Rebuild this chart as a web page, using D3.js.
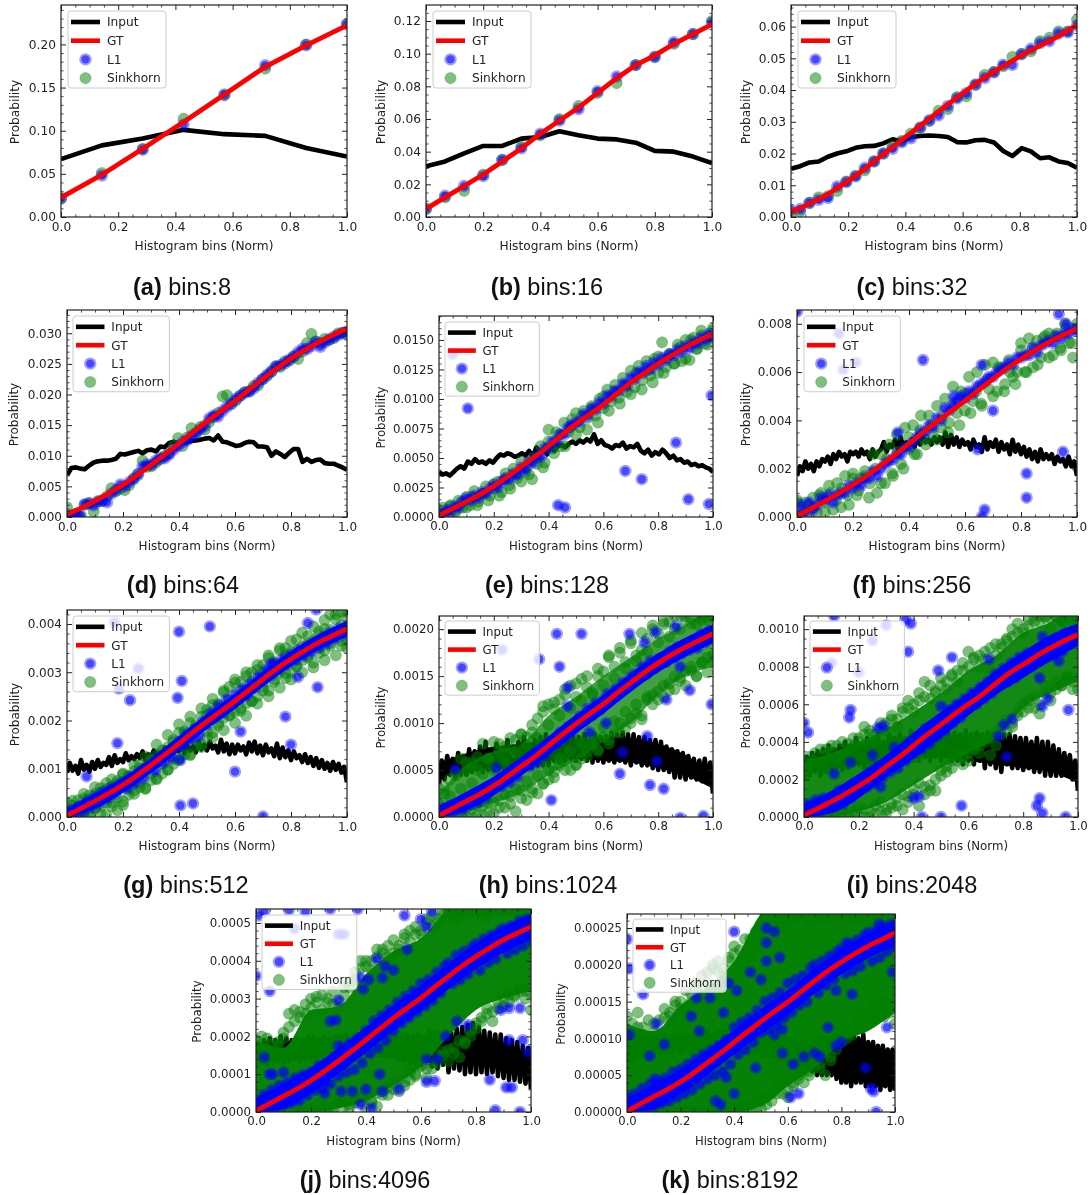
<!DOCTYPE html>
<html>
<head>
<meta charset="utf-8">
<script src="https://cdnjs.cloudflare.com/ajax/libs/d3/7.8.5/d3.min.js"></script>
<style>
  html, body { margin: 0; padding: 0; background: #fff; }
  svg { display: block; filter: blur(0.3px); }
  .tick text { fill: #222; }
</style>
</head>
<body>
<div id="chart"></div>
<script>
var xTicks = [0, 0.2, 0.4, 0.6, 0.8, 1];
var legendNames = ["Input", "GT", "L1", "Sinkhorn"];

var ticksA = [0, 0.05, 0.10, 0.15, 0.20];
var ticksB = [0, 0.02, 0.04, 0.06, 0.08, 0.10, 0.12];
var ticksC = [0, 0.01, 0.02, 0.03, 0.04, 0.05, 0.06];
var ticksD = [0, 0.005, 0.010, 0.015, 0.020, 0.025, 0.030];
var ticksE = [0, 0.0025, 0.0050, 0.0075, 0.0100, 0.0125, 0.0150];
var ticksF = [0, 0.002, 0.004, 0.006, 0.008];
var ticksG = [0, 0.001, 0.002, 0.003, 0.004];
var ticksH = [0, 0.0005, 0.0010, 0.0015, 0.0020];
var ticksI = [0, 0.0002, 0.0004, 0.0006, 0.0008, 0.0010];
var ticksJ = [0, 0.0001, 0.0002, 0.0003, 0.0004, 0.0005];
var ticksK = [0, 0.00005, 0.00010, 0.00015, 0.00020, 0.00025];

// (a) bins:8
var inputA = [.067,.083,.091,.101,.096,.094,.080,.070];
var gtA = [.0225,.049,.079,.110,.142,.174,.199,.222];
var l1A = [.022,.048,.078,.107,.142,.176,.199,.223];
var sinkA = [.021,.051,.079,.114,.141,.172,.200,.224];

// (b) bins:16
var inputB = [.031,.034,.039,.0435,.0435,.048,.049,.0525,.050,.048,.0475,.0455,.0405,.040,.037,.033];
var gtB = [.005,.012,.019,.026,.034,.042,.051,.059,.067,.076,.085,.093,.099,.106,.112,.118];
var l1B = [.005,.013,.019,.025,.035,.042,.051,.059,.066,.077,.086,.093,.098,.107,.112,.119];
var sinkB = [.005,.012,.016,.026,.035,.043,.050,.060,.068,.076,.082,.093,.098,.106,.112,.120];

// (c) bins:32, unit 1e-3
var inputC = [15.2,16,17.2,17.5,19,20,20.7,21.8,22.3,22.4,23.2,24.5,23.8,25.2,25.5,25.7,25.5,25.2,23.6,23.5,24.2,24.3,23.5,20.8,19.2,21.7,20.7,18.5,18.8,17.5,17,15.5];
var gtC = [1.5,2.8,4.2,5.6,7.2,9.1,11,13,15.2,17.5,19.8,22,24.3,26.5,28.8,31,33.3,35.5,37.7,39.8,42,44,45.8,47.5,49.2,51,52.5,54,55.5,57,58.8,60.5];
var l1C = [2.2,2.5,4.4,5.4,6,9.6,11,12.8,15.5,17.5,20,21.5,23.5,24.8,28.2,30.5,32,35,37.4,39,41.8,43.8,45.6,48,47.9,51.3,53,54.8,55.4,57.8,58.2,60.3];
var sinkC = [.8,1.8,4.5,6.2,6.6,8.2,11.2,13,14.7,17.5,20,22.3,24,26.3,28,30.2,33.5,34,37.8,38,41.6,44.8,45.7,47.5,50.5,51.4,52.2,55.4,56.5,58.5,58.5,62.2];

// (d) bins:64, unit 1e-3
var inputD = [6.8,8.0,8.1,7.9,7.8,8.4,8.9,9.1,9.2,9.2,
  9.3,9.5,10.3,10.2,10.4,10.6,10.8,10.4,10.9,11.0,
  10.7,11.5,11.4,12.1,12.3,12.0,12.3,12.2,12.4,12.5,
  12.6,12.8,12.9,12.5,13.3,12.3,12.2,11.9,11.6,11.7,
  12.1,12.3,12.2,11.5,11.5,11.4,10.0,10.7,10.3,9.8,
  10.5,11.1,11.1,9.0,9.5,9.0,9.3,9.4,8.8,8.7,8.7,8.4,8.1,7.7];
var gtD = [.5,1.4,2.6,3.9,5.2,6.8,8.5,10.2,12,13.9,15.6,17.3,18.9,20.8,22.6,24.3,25.9,27.3,28.6,29.7,30.8];
var l1D = [0.4,0.2,0.5,0.3,2.1,2.2,1.9,2.6,2.7,2.4,
  3.8,4.4,5.3,5.0,5.7,6.2,6.9,8.2,8.6,8.5,
  9.2,9.7,9.6,10.2,11.0,11.6,12.2,12.5,13.2,13.7,
  14.3,14.9,16.1,16.6,16.4,17.3,18.0,18.6,19.3,19.8,
  20.3,20.5,21.0,21.9,22.5,23.2,23.8,24.6,24.8,25.1,
  25.7,26.2,26.9,27.5,27.4,27.9,28.6,27.8,28.5,29.0,29.4,29.7,30.0,30.3];
var sinkD = [1.6,0.2,0.3,0.1,2.0,2.3,0.9,2.5,2.6,3.4,
  4.7,4.2,4.6,4.4,5.2,6.3,7.1,9.2,8.2,8.3,
  8.9,9.4,10.0,10.4,11.6,12.9,11.6,13.0,14.5,13.7,
  14.7,14.3,15.5,16.3,17.0,19.7,19.9,18.4,19.0,19.8,
  20.4,20.5,21.4,21.5,22.5,23.0,23.7,24.6,24.5,25.4,
  25.5,26.2,25.8,27.0,28.4,29.9,28.7,28.4,29.1,28.9,29.2,30.0,30.1,29.8];

// (e) bins:128, unit 1e-4
var inputE = [38,36,37,35,38,41,43,41,47,45,49,46,47,45,48,46,50,53,52,54,53,51,52,54,52,56,51,59,55,57,
  53,60,56,60,61,59,62,64,62,65,63,66,64,70,62,65,61,60,58,61,60,63,58,60,59,62,56,54,57,52,
  55,53,57,54,50,52,48,49,46,47,44,45,43,44,42,41,38];
var gtE = [1.5,7,13,19,26,34,43,51,60,70,79,87,95,105,114,122,130,137,144,150,155];
var l1E = [3,2,6,5,9,8,13, 16,14,18,16,21,20,24, 27,25,30,33,32,37,36, 42,40,47,46,52,51,58,
  59,64,64,70,70,76,78, 80,81,87,86,92,91,97, 96,103,102,107,107,113,111, 118,117,123,122,128,125,131,
  129,135,133,138,137,142,140, 145,143,148,147,152,150,155,152];
var l1OutE = [5,138, 10.5,92, 43.5,10, 46,8, 68,39, 74,32, 86.5,63, 91,15, 98.5,11, 99.5,103];
var sinkE = [3,8,4,10,5,14,8, 17,10,22,13,19,26,18, 24,30,21,37,27,41,33, 47,38,36,50,45,60,46,
  74,58,72,60,80,72,83, 88,76,90,84,94,86,100, 92,108,98,112,101,118,106, 124,110,128,116,132,120,134,
  122,148,127,138,130,146,132, 150,133,152,143,158,147,153,160];
var sinkE2 = [6,2,9,4,12,8,17,10,20,14, 28,18,32,24,36,30,42,32,50,42, 64,54,70,60,76,70,85,74,92,80,
  102,90,106,96,112,104,122,108,124,114, 136,122,138,130,144,134,150,142,154,146,158];

// (f) bins:256, unit 1e-4
var inputF = [17,21,19,23,20,22,19,23,21,24, 23,25,22,26,24,27,25,26,23,27, 26,27,25,28,26,27,24,28,25,27,
  28,31,27,30,29,32,28,33,29,31, 30,32,29,34,30,33,31,32,30,33, 31,33,30,35,29,34,30,33,29,32,
  30,31,28,32,29,30,27,33,28,31, 29,32,27,31,28,30,26,32,27,30, 26,29,25,28,24,27,23,28,24,26,
  24,26,22,25,23,24,21,25,21,23,17];
var gtF = [.5,3.5,6.6,9.8,13.3,17,21.5,25.7,30.4,35,39.6,43.8,48,52.7,57.2,61.6,65.5,69,72.5,75.3,78];
var l1F = [1,5,2,6,3,5,8, 7,9,6,9,10,10,13, 12,14,13,16,16,19,17, 20,22,23,24,26,26,29, 29,31,33,35,35,38,37,
  41,40,45,44,46,48,50, 49,52,51,54,55,56,58, 58,60,61,62,64,63,66, 66,67,67,70,68,71,72, 73,72,75,74,76,76,78,77];
var l1OutF = [0,85, 15,76, 16.5,61, 21,64, 45,65, 66,63, 56,50, 36,35, 70,44, 64.5,28, 95,27, 82,18, 82,8, 67,3, 66,0, 93.5,84, 96,80];
var sinkF = [7,1,6,0,8,2,10, 2,13,3,14,4,17,5, 18,9,16,19,8,26,10, 26,14,30,17,34,22,37, 28,38,26,42,32,42,34,
  46,37,49,39,54,43,52, 44,58,48,60,47,63,53, 64,52,62,55,65,58,60, 72,60,74,62,73,66,75, 76,67,76,69,80,72,66,78];
var sinkF2 = [6,3,5,4,9,6,10,7,12,9, 16,11,17,14,20,14,24,18,27,20, 33,26,36,30,38,32,42,35,47,38,
  51,43,52,46,57,50,62,52,60,55, 69,60,70,63,74,66,75,70,78,72,80];

// (g) bins:512, unit 1e-5
var inputG = [92,112,96,106,90,118,98,108,94,114, 100,118,104,112,108,124,106,128,112,120,
  114,132,118,126,120,130,122,136,118,130, 124,138,128,134,126,144,130,140,134,150,
  136,152,132,148,138,146,134,156,140,150, 138,156,142,148,134,160,136,152,130,150,
  132,150,138,146,130,154,136,156,132,148, 128,150,134,142,126,152,122,144,124,138,
  118,136,122,128,114,130,112,124,106,122, 102,118,100,112,96,114,98,110,92,104,72];
var gtG = [3,18,33,49,66,86,107,129,152,176,198,219,240,263,286,308,328,345,363,376,390];
var l1G = [2,14,6,22,12,32,20, 42,28,52,38,60,48,66, 72,60,82,70,90,80,100, 108,96,120,112,132,122,146,
  156,148,172,160,182,168,198, 192,216,206,230,216,244,232, 254,244,266,252,278,268,292, 282,306,294,318,306,328,316,
  336,324,346,334,354,342,362, 352,372,360,382,370,390,378,396];
var l1OutG = [17,403, 40,384, 51,395, 25.5,308, 41,282, 18.5,266, 22.5,242, 39.5,247, 18,153, 7,84, 40.5,118, 60,94, 40.5,24, 45,28, 62,177, 78,208, 80,150, 89.5,269, 86,402, 89,430, 82.5,290, 70,1, 73,318];
var l1BandHiG = [19,49,82,123,168,214,256,302,344,379,406];
var l1BandLoG = [0,17,50,91,136,182,224,270,312,347,374];
var sinkHiG = [30,24,35,38,45,48,60,70,64,75, 88,85,95,108,104,118,128,132,145,160,
  175,178,195,185,208,222,232,235,258,270, 285,280,292,300,305,315,330,322,345,350,
  342,368,352,375,365,385,390,420,410,425,415];
var sinkLoG = [0,2,1,6,8,18,22,4,30,14, 25,46,55,62,58,76,80,90,98,110,
  122,130,128,148,150,165,175,190,205,212, 218,220,235,240,250,270,262,285,300,288,
  300,315,325,335,320,350,345,360,375,355,365];
var sinkMidHiG = [14,34,22,48,37,62,50,58,78,70, 90,84,108,100,125,118,150,138,170,155,
  192,175,208,190,225,212,245,232,262,242, 278,262,300,280,315,298,335,318,350,335,
  365,345,382,360,395,378,408,388,420,398,425];
var sinkMidLoG = [0,0,4,10,0,18,6,30,22,40, 32,58,48,70,60,90,78,110,98,120,
  118,146,130,160,145,178,165,195,180,210, 195,226,210,240,235,262,250,280,268,298,
  285,312,300,330,310,340,325,355,335,365,350];

// (h) bins:1024, unit 1e-5
var inputH = [35,60,40,65,45,62,42,68,45,65, 45,72,48,70,50,75,48,80,50,72, 50,78,52,70,48,82,50,75,52,80,
  50,85,55,75,52,82,55,85,55,88, 55,82,60,88,58,85,60,88,62,85, 60,85,62,88,60,82,58,88,60,85,
  58,86,60,90,58,88,60,90,58,88, 55,88,58,85,55,85,55,82,52,82, 50,80,50,75,48,72,42,70,42,68,
  40,65,42,62,40,60,38,62,38,58,25];
var gtH = [1.5,9,17,24,33,43,54,64,76,88,99,110,120,132,143,154,164,173,181,188,195];
var l1H = [2,9,2,12,6,14,8, 16,13,24,16,27,21,32, 30,36,33,43,37,48,43, 52,56,54,62,58,70,66, 75,81,78,90,84,96,91,
  100,107,102,115,108,121,114, 124,131,127,136,132,143,139, 148,152,150,160,152,166,158, 168,170,165,176,170,181,174, 184,178,188,180,194,186,198,190];
var l1OutH = [6,51, 21,52, 23,178, 36.5,168, 44,160, 43,195, 52,195, 69.5,195, 79,197, 75,186, 47,138, 47,118, 61,100, 55,90, 41,18, 66,46, 67,69, 76,86, 79.5,59, 77,34, 82,30, 83,125, 91.5,135, 99.5,120, 88,160, 86.5,203, 96.5,1, 88,-1];
var l1BandHiH = [12,27,43,64,86,109,130,153,174,191,205];
var l1BandLoH = [0,7,23,44,66,89,110,133,154,171,185];
var sinkHiH = [30,25,40,48,62,50,58,64,78,62, 80,70,75,84,82,88,85,90,105,118, 120,115,125,130,140,128,147,138,132,150,
  155,170,160,175,165,185,172,178,190,200, 195,205,208,200,214,210,212,205,214,210,214];
var sinkLoH = [5,2,0,8,3,10,0,12,2,15, 4,18,10,22,6,28,18,30,25,35, 40,48,55,60,50,55,62,70,78,72,
  85,78,90,100,95,105,110,108,125,130, 125,140,135,150,145,155,160,150,165,170,165];
var sinkMidHiH = [14,32,22,44,30,58,36,50,46,62, 50,78,60,72,68,88,76,98,84,112, 98,122,108,136,116,142,124,150,130,158,
  140,172,148,180,158,188,166,196,176,204, 186,208,192,214,200,214,206,214,210,214,214];
var sinkMidLoH = [0,0,2,0,4,0,8,2,12,6, 16,10,24,14,30,20,38,26,44,36, 50,42,62,50,70,56,78,64,86,70,
  96,82,102,90,112,100,120,104,128,120, 134,128,142,136,148,140,156,150,164,154,172];
var bandHiH = [25,55,70,78,108,128,150,170,190,205,225];
var bandLoH = [0,5,15,25,45,60,80,100,130,150,160];
var blackHiH = [58,68,75,78,82,82,84,84,78,66,45];
var blackLoH = [42,48,52,55,60,62,60,58,52,44,30];

// (i) bins:2048, unit 1e-5
var inputI = [20,32,22,34,24,35,22,36,24,38, 24,36,26,38,25,40,26,38,28,42, 28,38,26,42,28,40,27,44,28,40,
  28,44,30,42,28,44,30,42,30,46, 30,44,30,46,32,44,30,44,32,46, 30,44,32,44,30,45,30,44,28,46,
  30,44,28,45,30,44,26,45,28,44, 26,45,24,44,28,44,26,43,26,42, 25,42,26,40,24,42,24,40,22,40,
  22,38,22,36,22,34,22,33,20,30,14];
var gtI = [1,4.4,8.2,12,16.5,21,27,32,38,44,49,55,60,65,71,77,81,86,90,94,97];
var l1I = [1,7,1,9,3,10,5, 10,6,14,7,15,10,18, 14,20,16,24,18,27,21, 28,24,32,26,35,30,38, 34,42,36,47,39,48,43,
  52,46,57,50,60,53,63, 58,66,60,69,63,72,66, 76,70,79,72,82,74,85, 78,87,80,88,83,90,85, 93,86,95,88,98,92,99,94];
var l1OutI = [0,50, 1.5,45, 10,82, 11,23, 16.5,53, 17,57, 17,29, 20,77, 25,94, 27,47.5, 29,48.5, 33,37, 25,33, 28,16, 37,105, 39,103, 38,88, 40,10, 42,11, 43,0, 57.5,6, 50,59, 54,85, 49,78, 50,0, 67.5,84, 71,43, 73,49, 74,32, 76,52, 85,6, 86,10, 87,2, 87,59, 89,63, 96.5,57, 95.5,0, 86,74, 87,96, 93,83, 30,102, 11,107];
var l1BandHiI = [7,14,23,33,45,56,66,78,88,97,103];
var l1BandLoI = [0,2,10,21,31,42,54,65,74,83,91];
var sinkHiI = [30,32,34,29,36,35,38,33,39,42, 42,48,44,40,47,50,52,48,58,62, 60,62,72,63,67,70,68,75,78,78,
  88,85,80,88,78,86,92,95,100,103, 98,105,104,107,106,100,107,104,107,103,106];
var sinkLoI = [0,3,0,5,0,2,0,4,0,1, 1,4,0,6,3,2,5,10,4,8, 15,6,12,17,14,25,27,30,33,28,
  30,40,38,42,33,45,48,52,50,56, 60,62,58,55,70,62,68,70,75,72,68];
var sinkMidHiI = [25,28,30,36,33,38,32,40,36,38, 40,44,46,44,50,46,54,52,56,58, 56,66,64,70,66,74,72,76,72,82,
  80,84,86,84,90,92,90,94,96,98, 100,102,107,104,107,106,107,105,107,107,107];
var sinkMidLoI = [2,0,4,1,0,3,0,2,0,3, 5,0,3,2,8,4,7,6,12,11, 12,18,16,14,20,22,24,26,30,32,
  34,36,34,40,42,38,44,46,48,54, 56,58,64,60,66,66,72,70,74,68,74];
var bandHiI = [30,34,40,47,56,66,78,86,98,104,115];
var bandLoI = [0,0,3,8,17,26,34,42,58,66,72];
var blackHiI = [30,36,38,40,42,42,42,42,40,36,22];
var blackLoI = [24,26,28,30,32,32,30,28,26,24,18];

// (j) bins:4096, unit 1e-6
var inputJ = [120,180,130,190,125,195,130,190,135,200, 130,195,135,190,140,195,135,190,140,200,
  140,200,140,195,145,200,140,195,145,200, 150,200,145,205,150,200,145,205,150,205,
  150,210,145,205,150,210,150,205,150,210, 145,200,140,205,135,205,130,200,130,205,
  125,200,135,215,120,210,115,210,125,215, 105,210,115,220,110,225,100,230,105,235,
  100,225,105,215,100,210,105,205,95,205, 90,195,85,190,85,185,80,175,75,170,60];
var gtJ = [3,22,42,61,83,108,135,162,191,220,249,275,301,331,359,387,412,434,456,473,490];
var l1J = [30,0,45,5,58,10,70, 20,78,25,90,30,98,45, 105,58,122,62,130,75,145, 95,168,105,182,112,195,130,
  215,155,240,170,255,190,270, 215,290,235,305,250,320,265, 340,280,350,295,370,315,385, 395,340,415,350,425,365,435,
  445,375,458,395,468,405,478, 485,420,492,430,505,440,510,455];
var l1OutJ = [0,360, 1,520, 5,320, 14,485, 30,470, 32,470, 18,530, 30,295, 41,350, 47,385, 44,405, 50,375, 55,430, 54,520,
  3,145, 5,100, 38,355, 46,355, 39,325, 31,55, 40,60, 46,55, 52,60, 45,100, 62,80, 65,82, 66,140, 62,140, 73,240, 69,200, 77,230,
  85,85, 89,270, 92,275, 96,275, 92,190, 97,190, 99,160, 87,5, 91,65, 93,65, 96,0, 64,530, 60,510, 62,490, 30,175, 25,80, 25,50,
  35,55, 38,20, 42,10, 10,105, 6,100, 29,243, 27,240, 3,530, 12,535, 27,537, 37,537];
var l1BandHiJ = [37,76,117,169,225,283,335,393,446,490,524];
var l1BandLoJ = [0,8,49,101,157,215,267,325,378,422,456];
var sinkHiJ = [190,200,195,180,175,210,260,270,265,285, 300,305,310,290,285,275,310,345,370,400,
  385,400,430,420,410,455,440,460,450,470, 480,500,490,510,520,530,510,530,520,530,
  530,535,520,537,530,537,530,537,525,537,530];
var sinkLoJ = [0,0,0,0,0,0,0,0,0,0, 10,0,30,5,10,35,15,20,25,40, 10,30,15,45,45,60,55,70,85,100,
  120,90,115,130,150,135,170,145,180,200, 220,250,260,240,275,300,290,310,320,300,270];
var sinkMidHiJ = [170,180,165,155,185,195,225,240,250,260, 275,290,270,300,320,295,330,330,350,380,
  400,375,410,430,440,420,430,470,480,490, 470,510,520,500,530,537,520,530,537,530,
  537,520,530,537,537,530,537,537,530,537,537];
var sinkMidLoJ = [0,0,0,0,0,0,0,0,0,0, 0,5,0,15,0,25,30,10,35,30, 40,25,50,55,65,75,85,80,105,95,
  125,115,130,150,160,165,155,190,185,215, 235,240,275,265,290,280,310,305,330,320,315];
var bandHiJ = [190,170,270,280,365,425,460,540,600,600,600];
var bandLoJ = [0,0,0,10,30,70,120,200,270,300,320];
var blackHiJ = [170,185,190,195,200,195,200,190,190,170,110];
var blackLoJ = [130,135,145,150,155,140,130,135,135,115,85];

// (k) bins:8192, unit 1e-6
var inputK = [70,95,70,95,75,100,75,100,75,100, 80,100,80,105,80,105,80,100,80,105, 85,105,80,105,85,105,80,105,85,110,
  80,105,85,110,85,105,85,110,85,110, 85,110,85,110,85,110,80,105,80,110, 80,105,80,105,80,105,75,105,75,100,
  75,100,70,100,70,100,70,100,65,95, 65,95,60,95,60,90,55,95,50,100, 50,100,50,100,50,105,45,100,40,105,
  40,110,35,105,40,100,40,105,35,95, 35,95,35,90,30,90,35,85,30,85,30];
var gtK = [1,11,21,30,41,53,67,80,95,109,123,137,149,164,178,192,204,215,226,234,243];
var l1K = [20,0,25,2,32,5,38, 8,42,12,46,15,54,20, 58,25,65,30,72,38,78, 45,84,50,90,55,98,65,
  115,78,122,85,128,95,138, 108,150,112,155,118,162,128, 175,135,180,145,185,150,195, 200,162,205,172,212,180,218,
  222,188,228,192,233,198,240, 244,205,246,210,252,218,255,225];
var l1OutK = [0,235, 1,195, 1,105, 6,160, 11,120, 14,92, 8.5,76, 10.5,45, 24,130, 26,155, 27,110, 31,155, 36,135, 37,95, 37,47, 38,175, 41,165, 40,25,
  33,15, 35,10, 30,75, 45,110, 48,60, 58,80, 56,125, 55,105, 58,112, 52,250, 55,245, 52,205, 52,230, 57,210, 40,245, 46,190, 50,180,
  62,65, 66,75, 70,80, 72,75, 75,115, 78,90, 80,95, 87,210, 82,230, 61,20, 64,25, 89,60, 91,32, 92,28, 93,0, 97,115, 99,190, 94,255, 72,175, 78,165, 84,160];
var l1BandHiK = [18,38,58,84,112,140,166,195,221,243,260];
var l1BandLoK = [0,4,24,50,78,106,132,161,187,209,226];
var sinkHiK = [130,120,135,115,125,120,105,128,130,145, 150,140,160,175,160,190,200,190,195,210,
  215,220,205,235,225,240,250,269,255,265, 260,269,265,269,260,269,265,269,262,269,
  269,265,269,262,269,265,269,262,269,265,269];
var sinkLoK = [0,0,0,0,0,0,0,0,0,0, 0,0,0,0,0,0,0,0,0,0, 0,5,0,10,5,15,10,25,35,25,
  20,40,45,40,55,60,65,50,70,85, 95,100,110,115,135,120,125,130,150,135,120];
var sinkMidHiK = [110,100,115,105,95,110,125,140,135,150, 140,165,150,170,185,175,195,205,185,205,
  225,200,235,215,245,255,235,265,269,250, 269,260,269,269,255,269,265,269,269,269,
  269,269,269,269,269,269,269,269,269,269,269];
var sinkMidLoK = [0,0,0,0,0,0,0,0,0,0, 0,0,0,0,0,0,0,0,0,0, 5,0,10,3,15,5,20,15,25,40,
  30,35,50,55,50,70,60,80,75,95, 105,115,105,125,120,130,145,140,130,145,150];
var bandHiK = [120,110,145,170,205,270,300,300,300,300,300];
var bandLoK = [0,0,0,0,0,8,35,60,95,110,135];
var blackHiK = [90,95,100,100,100,100,95,85,85,90,70];
var blackLoK = [75,80,85,85,85,80,75,70,70,55,45];

// pair up a flat "x%, y, x%, y" list
function pairs(flat) {
    var out = [];
    for (var i = 0; i < flat.length; i += 2) out.push([flat[i] / 100, flat[i + 1]]);
    return out;
}
// values sitting on evenly spaced bins between 0 and 1
function even(list) {
    return list.map(function (v, i) { return [i / (list.length - 1), v]; });
}

var panels = [
    {tag: "(a)", cap: "bins:8", l: 61, r: 347, t: 5, b: 217, yMax: .2457, unit: 1, ticks: ticksA, dec: 2, sub: 5, fs: 12.2, yl: 46, lx: 7, ly: 6,
     input: inputA, gt: gtA, l1: even(l1A), green: even(sinkA), cx: 182, cy: 295},
    {tag: "(b)", cap: "bins:16", l: 426, r: 712, t: 5, b: 217, yMax: .1298, unit: 1, ticks: ticksB, dec: 2, sub: 4, fs: 12.2, yl: 45, lx: 7, ly: 6,
     input: inputB, gt: gtB, l1: even(l1B), green: even(sinkB), cx: 547, cy: 295},
    {tag: "(c)", cap: "bins:32", l: 791, r: 1077, t: 5, b: 217, yMax: .0668, unit: 1e-3, ticks: ticksC, dec: 2, sub: 5, fs: 12.2, yl: 45, lx: 7, ly: 6,
     input: inputC, gt: gtC, l1: even(l1C), green: even(sinkC), cx: 912, cy: 295},
    {tag: "(d)", cap: "bins:64", l: 67, r: 347, t: 310, b: 517, yMax: .0338, unit: 1e-3, ticks: ticksD, dec: 3, sub: 5, fs: 12, yl: 53, lx: 6, ly: 6,
     input: inputD, gt: gtD, l1: even(l1D), green: even(sinkD), cx: 183, cy: 593},
    {tag: "(e)", cap: "bins:128", l: 439, r: 713, t: 316, b: 517, yMax: .01703, unit: 1e-4, ticks: ticksE, dec: 4, sub: 5, fs: 11.75, yl: 58, lx: 6, ly: 6,
     input: inputE, gt: gtE, l1: even(l1E).concat(pairs(l1OutE)), green: even(sinkE).concat(even(sinkE2)), cx: 547, cy: 593},
    {tag: "(f)", cap: "bins:256", l: 797, r: 1077, t: 310, b: 517, yMax: .00857, unit: 1e-4, ticks: ticksF, dec: 3, sub: 4, fs: 12, yl: 51, lx: 7, ly: 6,
     input: inputF, gt: gtF, l1: even(l1F).concat(pairs(l1OutF)), green: even(sinkF).concat(even(sinkF2)), cx: 912, cy: 593},
    {tag: "(g)", cap: "bins:512", l: 67, r: 347, t: 610, b: 817, yMax: .00429, unit: 1e-5, ticks: ticksG, dec: 3, sub: 5, fs: 12, yl: 52, lx: 6, ly: 6,
     input: inputG, gt: gtG, l1: even(l1G).concat(pairs(l1OutG)), l1Hi: l1BandHiG, l1Lo: l1BandLoG,
     green: [sinkHiG, sinkLoG, sinkMidHiG, sinkMidLoG].map(even).flat(), cx: 186, cy: 893},
    {tag: "(h)", cap: "bins:1024", l: 439, r: 713, t: 616, b: 817, yMax: .00214, unit: 1e-5, ticks: ticksH, dec: 4, sub: 5, fs: 11.75, yl: 58, lx: 6, ly: 5,
     input: inputH, gt: gtH, l1: even(l1H).concat(pairs(l1OutH)), l1Hi: l1BandHiH, l1Lo: l1BandLoH, blackHi: blackHiH, blackLo: blackLoH,
     green: [sinkHiH, sinkLoH, sinkMidHiH, sinkMidLoH].map(even).flat(), bandHi: bandHiH, bandLo: bandLoH, bandAlpha: .75, cx: 548, cy: 893},
    {tag: "(i)", cap: "bins:2048", l: 804, r: 1078, t: 616, b: 817, yMax: .00107, unit: 1e-5, ticks: ticksI, dec: 4, sub: 4, fs: 11.75, yl: 58, lx: 6, ly: 5,
     input: inputI, gt: gtI, l1: even(l1I).concat(pairs(l1OutI)), l1Hi: l1BandHiI, l1Lo: l1BandLoI, blackHi: blackHiI, blackLo: blackLoI,
     green: [sinkHiI, sinkLoI, sinkMidHiI, sinkMidLoI].map(even).flat(), bandHi: bandHiI, bandLo: bandLoI, bandAlpha: .92, cx: 912, cy: 893},
    {tag: "(j)", cap: "bins:4096", l: 256, r: 531, t: 909, b: 1112, yMax: .000537, unit: 1e-6, ticks: ticksJ, dec: 4, sub: 5, fs: 11.8, yl: 59, lx: 6, ly: 6,
     input: inputJ, gt: gtJ, l1: even(l1J).concat(pairs(l1OutJ)), l1Hi: l1BandHiJ, l1Lo: l1BandLoJ, blackHi: blackHiJ, blackLo: blackLoJ,
     green: [sinkHiJ, sinkLoJ, sinkMidHiJ, sinkMidLoJ].map(even).flat(), bandHi: bandHiJ, bandLo: bandLoJ, bandAlpha: .97, cx: 365, cy: 1188},
    {tag: "(k)", cap: "bins:8192", l: 627, r: 895, t: 914, b: 1112, yMax: .000269, unit: 1e-6, ticks: ticksK, dec: 5, sub: 5, fs: 11.6, yl: 66, lx: 6, ly: 5,
     input: inputK, gt: gtK, l1: even(l1K).concat(pairs(l1OutK)), l1Hi: l1BandHiK, l1Lo: l1BandLoK, blackHi: blackHiK, blackLo: blackLoK,
     green: [sinkHiK, sinkLoK, sinkMidHiK, sinkMidLoK].map(even).flat(), bandHi: bandHiK, bandLo: bandLoK, bandAlpha: .98, cx: 730, cy: 1188}
];

var width = 1091, height = 1195;
var font = "'DejaVu Sans', sans-serif";
var l1Radii = [[6.2, .38], [4.2, .55]];

var svg = d3.select("#chart").append("svg")
    .attr("width", width)
    .attr("height", height);

panels.forEach(drawPanel);

function drawPanel(p, idx) {
    var x = d3.scaleLinear().domain([0, 1]).range([p.l, p.r]);
    var y = d3.scaleLinear().domain([0, p.yMax]).range([p.b, p.t]);
    var yv = function (v) { return y(v * p.unit); };
    var fx = function (d) { return x(d[0]); };
    var fy = function (d) { return yv(d[1]); };

    svg.append("clipPath").attr("id", "clip" + idx).append("rect")
        .attr("x", p.l).attr("y", p.t).attr("width", p.r - p.l).attr("height", p.b - p.t);
    var g = svg.append("g").attr("clip-path", "url(#clip" + idx + ")");

    var line = d3.line().x(fx).y(fy);
    var smooth = d3.line().x(fx).y(fy).curve(d3.curveBasis);

    function band(hi, lo, color, alpha) {
        var area = d3.area().x(function (d, i) { return x(i / (hi.length - 1)); })
            .y0(function (d, i) { return yv(lo[i]); })
            .y1(function (d) { return yv(d); })
            .curve(d3.curveMonotoneX);
        g.append("path").datum(hi).attr("d", area)
            .attr("fill", color).attr("fill-opacity", alpha);
    }

    if (p.blackHi) band(p.blackHi, p.blackLo, "black", 1);
    g.append("path").datum(even(p.input)).attr("d", line)
        .attr("fill", "none").attr("stroke", "black").attr("stroke-width", 4.6).attr("stroke-linejoin", "round");

    if (p.bandHi) band(p.bandHi, p.bandLo, "green", p.bandAlpha);

    g.append("g").selectAll("circle").data(p.green)
        .enter().append("circle")
        .attr("cx", fx).attr("cy", fy).attr("r", 5.6)
        .attr("fill", "green").attr("fill-opacity", .5)
        .attr("stroke", "green").attr("stroke-opacity", .25);

    if (p.l1Hi) band(p.l1Hi, p.l1Lo, "blue", 1);

    // two stacked discs give the pale ring and the darker middle
    l1Radii.forEach(function (ra) {
        g.append("g").selectAll("circle").data(p.l1)
            .enter().append("circle")
            .attr("cx", fx).attr("cy", fy).attr("r", ra[0])
            .attr("fill", "blue").attr("fill-opacity", ra[1]);
    });

    g.append("path").datum(even(p.gt)).attr("d", p.gt.length === 21 ? smooth : line)
        .attr("fill", "none").attr("stroke", "red").attr("stroke-width", 4.8);

    // frame and ticks, all pointing inward
    var minorX = d3.range(0, 1.0001, .05).filter(function (v) { return Math.abs(v * 5 - Math.round(v * 5)) > 1e-6; });
    var step = p.ticks[1] / p.sub;
    var minorY = d3.range(0, p.yMax, step).filter(function (v) {
        var q = v / p.ticks[1];
        return Math.abs(q - Math.round(q)) > 1e-6;
    });
    var fmt = d3.format("." + p.dec + "f");
    var xfmt = d3.format(".1f");

    function axis(sel, make, sc, major, minor, tf, trans) {
        var a = sel.append("g").attr("transform", trans)
            .call(make(sc).tickValues(major).tickSize(-5).tickPadding(5).tickFormat(tf));
        a.select(".domain").remove();
        var m = sel.append("g").attr("transform", trans)
            .call(make(sc).tickValues(minor).tickSize(-2.6).tickFormat(""));
        m.select(".domain").remove();
        a.selectAll("line").attr("stroke", "#222").attr("stroke-width", 1);
        m.selectAll("line").attr("stroke", "#222").attr("stroke-width", .8);
        a.selectAll("text").attr("font-family", font).attr("font-size", p.fs);
    }
    var fr = svg.append("g");
    axis(fr, d3.axisBottom, x, xTicks, minorX, xfmt, "translate(0," + p.b + ")");
    axis(fr, d3.axisTop, x, xTicks, minorX, "", "translate(0," + p.t + ")");
    axis(fr, d3.axisLeft, y, p.ticks, minorY, fmt, "translate(" + p.l + ",0)");
    axis(fr, d3.axisRight, y, p.ticks, minorY, "", "translate(" + p.r + ",0)");

    fr.append("rect")
        .attr("x", p.l).attr("y", p.t).attr("width", p.r - p.l).attr("height", p.b - p.t)
        .attr("fill", "none").attr("stroke", "#222").attr("stroke-width", 1.2);

    fr.append("text")
        .attr("x", (p.l + p.r) / 2).attr("y", p.b + 33)
        .attr("text-anchor", "middle")
        .attr("font-family", font).attr("font-size", p.fs).attr("fill", "#222")
        .text("Histogram bins (Norm)");

    fr.append("text")
        .attr("transform", "translate(" + (p.l - p.yl + 4) + "," + ((p.t + p.b) / 2 + 1) + ") rotate(-90)")
        .attr("text-anchor", "middle")
        .attr("font-family", font).attr("font-size", p.fs).attr("fill", "#222")
        .text("Probability");

    drawLegend(p);

    var cap = svg.append("text")
        .attr("x", p.cx).attr("y", p.cy)
        .attr("text-anchor", "middle")
        .attr("font-family", "'Liberation Sans', Arial, sans-serif")
        .attr("font-size", 23.5).attr("fill", "#111");
    cap.append("tspan").attr("font-weight", "bold").text(p.tag);
    cap.append("tspan").text(" " + p.cap);
}

function drawLegend(p) {
    var s = p.fs / 12.2;
    var lg = svg.append("g").attr("transform", "translate(" + (p.l + p.lx) + "," + (p.t + p.ly) + ")");
    lg.append("rect")
        .attr("width", 98 * s).attr("height", 77 * s).attr("rx", 3)
        .attr("fill", "white").attr("fill-opacity", .8)
        .attr("stroke", "#ccc").attr("stroke-width", 1);

    legendNames.forEach(function (name, i) {
        var ry = (11 + i * 18.7) * s;
        if (i < 2) {
            lg.append("line")
                .attr("x1", 3 * s).attr("x2", 32 * s).attr("y1", ry).attr("y2", ry)
                .attr("stroke", i === 0 ? "black" : "red").attr("stroke-width", 4.6);
        } else if (i === 2) {
            l1Radii.forEach(function (ra) {
                lg.append("circle").attr("cx", 17.5 * s).attr("cy", ry).attr("r", ra[0])
                    .attr("fill", "blue").attr("fill-opacity", ra[1]);
            });
        } else {
            lg.append("circle").attr("cx", 17.5 * s).attr("cy", ry).attr("r", 5.6)
                .attr("fill", "green").attr("fill-opacity", .5)
                .attr("stroke", "green").attr("stroke-opacity", .25);
        }
        lg.append("text")
            .attr("x", 39 * s).attr("y", ry + 4.3)
            .attr("font-family", font).attr("font-size", p.fs).attr("fill", "#222")
            .text(name);
    });
}
</script>
</body>
</html>
